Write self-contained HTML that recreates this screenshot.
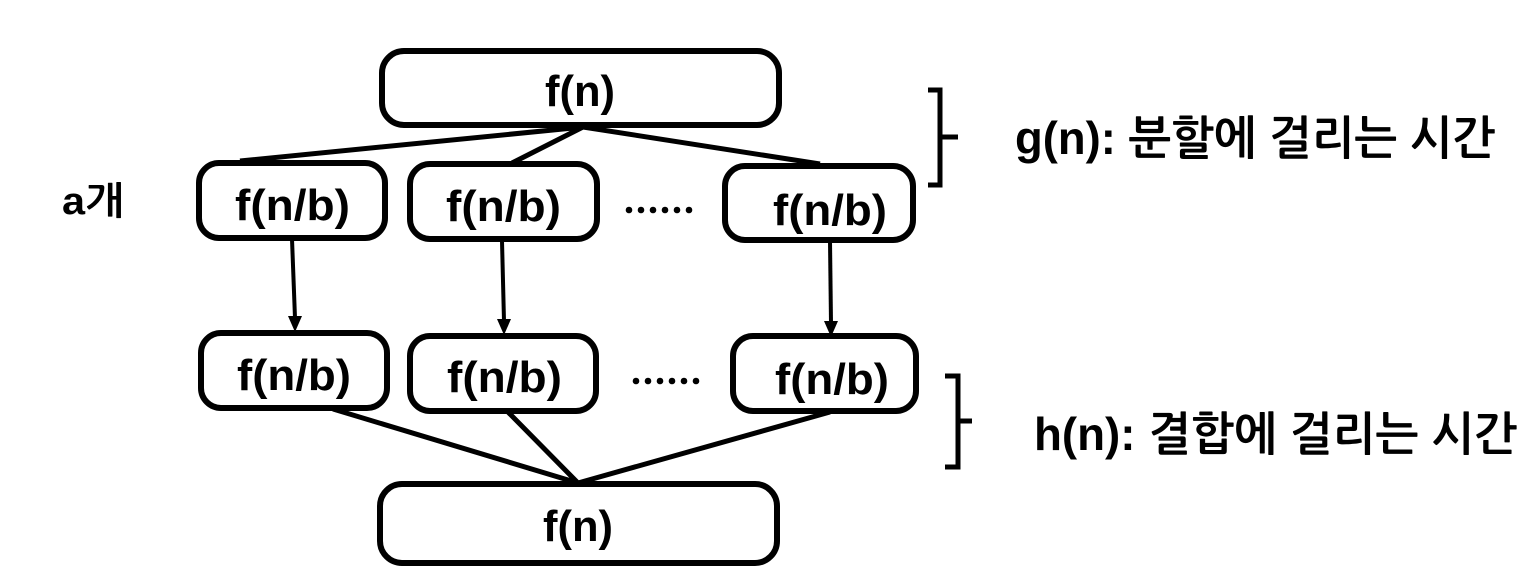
<!DOCTYPE html>
<html><head><meta charset="utf-8"><style>html,body{margin:0;padding:0;background:#fff;}svg{display:block}</style></head>
<body>
<svg width="1538" height="574" viewBox="0 0 1538 574" xmlns="http://www.w3.org/2000/svg">
<g fill="none" stroke="#000" stroke-width="6">
<rect x="382" y="51" width="397" height="74" rx="22"/>
<rect x="199" y="163" width="186" height="75" rx="20"/>
<rect x="410" y="164" width="187" height="75" rx="20"/>
<rect x="725" y="166" width="188" height="74" rx="20"/>
<rect x="201" y="333" width="186" height="75" rx="20"/>
<rect x="410" y="336" width="186" height="75" rx="20"/>
<rect x="733" y="336" width="183" height="75" rx="20"/>
<rect x="380" y="484" width="397" height="79" rx="22"/>
</g>
<g fill="none" stroke="#000" stroke-width="5">
<path d="M583,127 L240,161 M583,127 L512,163 M583,127 L820,164"/>
<path d="M333,409 L578,483 M508,412 L578,483 M830,412 L578,483"/>
<path d="M928,90 H940 V185 H928 M940,137 H958"/>
<path d="M945,376 H958 V467 H945 M958,421 H972"/>
</g>
<g stroke="#000" stroke-width="4" fill="none">
<path d="M292,239 L295,318"/><path d="M502,241 L504,321"/><path d="M830,241 L831,323"/>
</g>
<g fill="#000"><path d="M288,316 L302,316 L295,332 Z"/><path d="M497,319 L511,319 L504,335 Z"/><path d="M824,321 L838,321 L831,337 Z"/></g>
<g fill="#000">
<circle cx="629" cy="210" r="3.3"/><circle cx="641" cy="210" r="3.3"/><circle cx="653" cy="210" r="3.3"/><circle cx="665" cy="210" r="3.3"/><circle cx="677" cy="210" r="3.3"/><circle cx="689" cy="210" r="3.3"/>
<circle cx="636" cy="381" r="3.3"/><circle cx="648" cy="381" r="3.3"/><circle cx="660" cy="381" r="3.3"/><circle cx="672" cy="381" r="3.3"/><circle cx="684" cy="381" r="3.3"/><circle cx="696" cy="381" r="3.3"/>
</g>
<g font-family="'Liberation Sans','NanumGothic','Noto Sans CJK KR',sans-serif" font-weight="bold" fill="#000" font-size="44">
<text x="545" y="106" textLength="70" lengthAdjust="spacingAndGlyphs">f(n)</text>
<text x="235" y="220" textLength="115" lengthAdjust="spacingAndGlyphs">f(n/b)</text>
<text x="446" y="221" textLength="115" lengthAdjust="spacingAndGlyphs">f(n/b)</text>
<text x="773" y="225" textLength="114" lengthAdjust="spacingAndGlyphs">f(n/b)</text>
<text x="237" y="390" textLength="114" lengthAdjust="spacingAndGlyphs">f(n/b)</text>
<text x="447" y="392" textLength="115" lengthAdjust="spacingAndGlyphs">f(n/b)</text>
<text x="775" y="394" textLength="114" lengthAdjust="spacingAndGlyphs">f(n/b)</text>
<text x="543" y="541" textLength="70" lengthAdjust="spacingAndGlyphs">f(n)</text>
<text x="62" y="214" font-size="38" textLength="62" lengthAdjust="spacingAndGlyphs">a개</text>
<text x="1015" y="154" font-size="46" textLength="480" lengthAdjust="spacingAndGlyphs">g(n): 분할에 걸리는 시간</text>
<text x="1034" y="450" font-size="46" textLength="483" lengthAdjust="spacingAndGlyphs">h(n): 결합에 걸리는 시간</text>
</g>
</svg>
</body></html>
